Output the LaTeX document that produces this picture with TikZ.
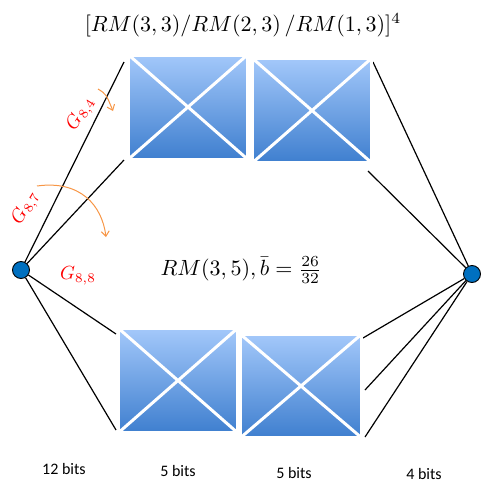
\documentclass[tikz,border=0pt]{standalone}
\usepackage{fontspec}
\newfontfamily\calibri{Carlito}
\usetikzlibrary{shadows,arrows.meta}
\definecolor{dotblue}{HTML}{0070C0}
\definecolor{arrorange}{HTML}{F79646}
\definecolor{boxtop}{HTML}{A3C8FA}
\definecolor{boxbot}{HTML}{3F7FCF}
\begin{document}
\begin{tikzpicture}[x=1pt, y=-1pt,
  box/.style={draw=white, line width=3pt, top color=boxtop, bottom color=boxbot, minimum width=119pt, minimum height=104pt, inner sep=0pt, drop shadow={opacity=0.35, shadow xshift=1.5pt, shadow yshift=-1.5pt}},
  cross/.style={white, line width=3pt},
  dot/.style={circle, draw=black, fill=dotblue, minimum size=17pt, inner sep=0pt, line width=0.9pt},
  link/.style={black, line width=1.2pt},
  turn/.style={arrorange, line width=1pt, -{Straight Barb[length=5pt,width=8pt]}},
  bits/.style={font=\calibri\fontsize{16}{18}\selectfont},
  glbl/.style={red, scale=1.9, inner sep=0pt}]
  \useasboundingbox (0,0) rectangle (481,482);
  % end points
  \node[dot] (src) at (21,270) {};
  \node[dot] (snk) at (472,274) {};
  \coordinate (a1) at (124,62);
  \coordinate (a2) at (124,160);
  \coordinate (a3) at (116,334);
  \coordinate (a4) at (116,430);
  \coordinate (b1) at (373,62);
  \coordinate (b2) at (368,171);
  \coordinate (b3) at (363,338);
  \coordinate (b4) at (365,390);
  \coordinate (b5) at (365,437);
  \foreach \p in {a1,a2,a3,a4} \draw[link] (src) -- (\p);
  \foreach \p in {b1,b2,b3,b4,b5} \draw[link] (\p) -- (snk);
  % sections
  \node[box] (top1) at (188,107) {};
  \node[box] (top2) at (312,110.5) {};
  \node[box] (bot1) at (178,380.5) {};
  \node[box, minimum width=121pt, minimum height=103pt] (bot2) at (301,386) {};
  \foreach \b in {top1,top2,bot1,bot2}
    \draw[cross] (\b.north west) -- (\b.south east) (\b.south west) -- (\b.north east);
  % labels
  \node[scale=2.2, inner sep=0pt] (title) at (243,25) {$[RM(3,3)/RM(2,3)\,/RM(1,3)]^4$};
  \node[scale=2.2, inner sep=0pt] (rate) at (241,270) {$RM(3,5),\bar{b}=\frac{26}{32}$};
  \node[glbl, rotate=58] (g84) at (81,114) {$G_{8,4}$};
  \node[glbl, rotate=60] (g87) at (26,208) {$G_{8,7}$};
  \node[glbl] (g88) at (78,276) {$G_{8,8}$};
  \draw[turn] (98,89) .. controls (106,94) .. (113,111);
  \draw[turn] (37,186) .. controls (80,180) and (102,205) .. (106,237);
  \node[bits] (n1) at (64,469) {12 bits};
  \node[bits] (n2) at (178,471) {5 bits};
  \node[bits] (n3) at (294,473) {5 bits};
  \node[bits] (n4) at (424,474) {4 bits};
\end{tikzpicture}
\end{document}
